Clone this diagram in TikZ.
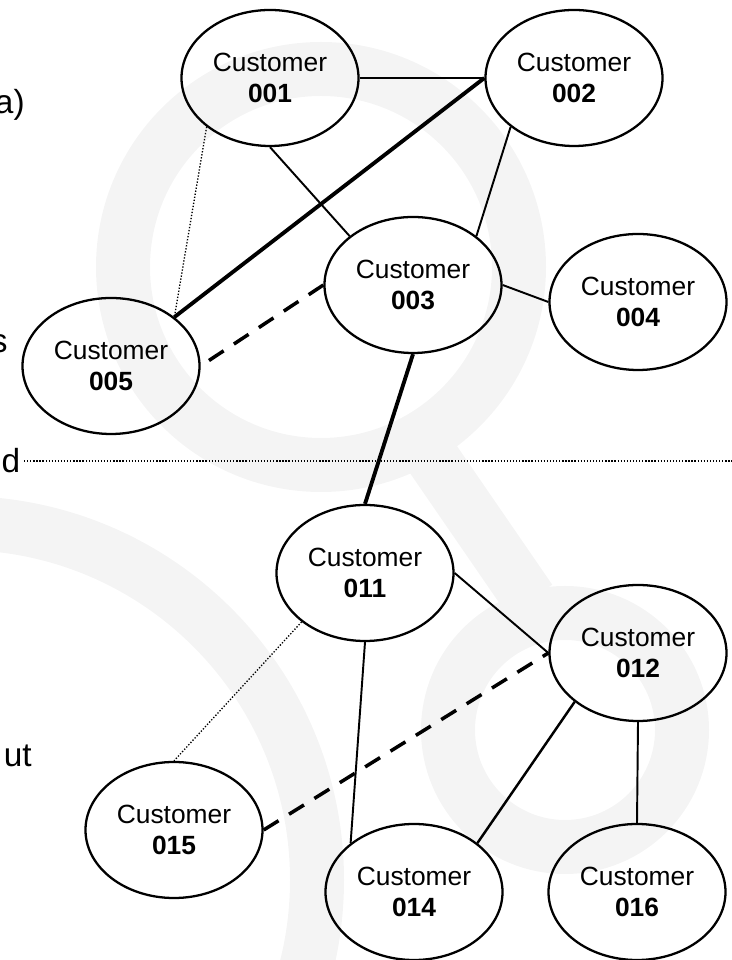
\documentclass[tikz,border=0pt]{standalone}
\usepackage{fontspec}
\setmainfont{Liberation Sans}
\usepackage{xcolor}
\definecolor{netLogoGray}{HTML}{F4F4F4}
\usepackage{tikz}
\usetikzlibrary{shapes.geometric}

\begin{document}
\begin{tikzpicture}[font=\fontsize{15}{17.5}\selectfont]
  \tikzset{
    customer/.style={
      ellipse,
      draw=black,
      line width=1.3pt,
      minimum width=3.54cm,
      minimum height=2.72cm,
      inner sep=0pt,
      align=center,
    },
    link/.style={line width=1.1pt},
    midlink/.style={line width=1.4pt},
    stronglink/.style={line width=2.2pt},
    weaklink/.style={line width=2pt, dash pattern=on 10pt off 7pt},
    faintlink/.style={line width=0.75pt, dash pattern=on 0.75pt off 1pt},
    cutlabel/.style={
      font=\fontsize{19}{22}\selectfont,
      inner sep=0pt,
      anchor=base east,
    },
  }

  \path[use as bounding box] (0,0) rectangle (14.64,19.2);
  \clip (0,0) rectangle (14.64,19.2);

  % faint logo rings behind the network
  \begin{scope}[draw=netLogoGray, line width=1.08cm]
    \draw (6.42,13.86) circle (3.96);
    \draw (-0.80,1.60) circle (7.14);
    \draw (11.30,4.60) circle (2.34);
    \draw (8.40,10.40) -- (10.60,7.20);
  \end{scope}

  % upper group
  \node[customer] (c001) at (5.40,17.64) {Customer\\\textbf{001}};
  \node[customer] (c002) at (11.48,17.64) {Customer\\\textbf{002}};
  \node[customer] (c003) at (8.26,13.50) {Customer\\\textbf{003}};
  \node[customer] (c004) at (12.76,13.16) {Customer\\\textbf{004}};
  \node[customer] (c005) at (2.22,11.88) {Customer\\\textbf{005}};

  % lower group
  \node[customer] (c011) at (7.30,7.74) {Customer\\\textbf{011}};
  \node[customer] (c012) at (12.76,6.14) {Customer\\\textbf{012}};
  \node[customer] (c014) at (8.28,1.36) {Customer\\\textbf{014}};
  \node[customer] (c015) at (3.48,2.60) {Customer\\\textbf{015}};
  \node[customer] (c016) at (12.74,1.36) {Customer\\\textbf{016}};

  \draw[link] (c001.east) -- (c002.west);
  \draw[link] (c001.south) -- (c003.north west);
  \draw[stronglink] (c002.west) -- (c005.north east);
  \draw[faintlink] (c001.south west) -- (c005.north east);
  \draw[weaklink] (c003.west) -- (c005.east);
  \draw[link] (c002.south west) -- (c003.north east);
  \draw[link] (c003.east) -- (c004.west);
  \draw[stronglink] (c003.south) -- (c011.north);

  \draw[link] (c011.east) -- (c012.west);
  \draw[link] (c011.south) -- (c014.north west);
  \draw[faintlink] (c011.south west) -- (c015.north);
  \draw[weaklink] (c015.east) -- (c012.west);
  \draw[midlink] (c012.south west) -- (c014.north east);
  \draw[link] (c012.south) -- (c016.north);

  % word ends along the left margin
  \node[cutlabel] (lblA) at (0.50,16.92) {a)};
  \node[cutlabel] (lblS) at (0.16,12.14) {s};
  \node[cutlabel] (lblD) at (0.41,9.74) {d};
  \node[cutlabel] (lblU) at (0.64,3.86) {ut};

  \coordinate (sepEnd) at (14.64,10.02);
  \draw[faintlink] ([xshift=2pt]lblD.east) -- (lblD.east -| sepEnd);
\end{tikzpicture}
\end{document}
